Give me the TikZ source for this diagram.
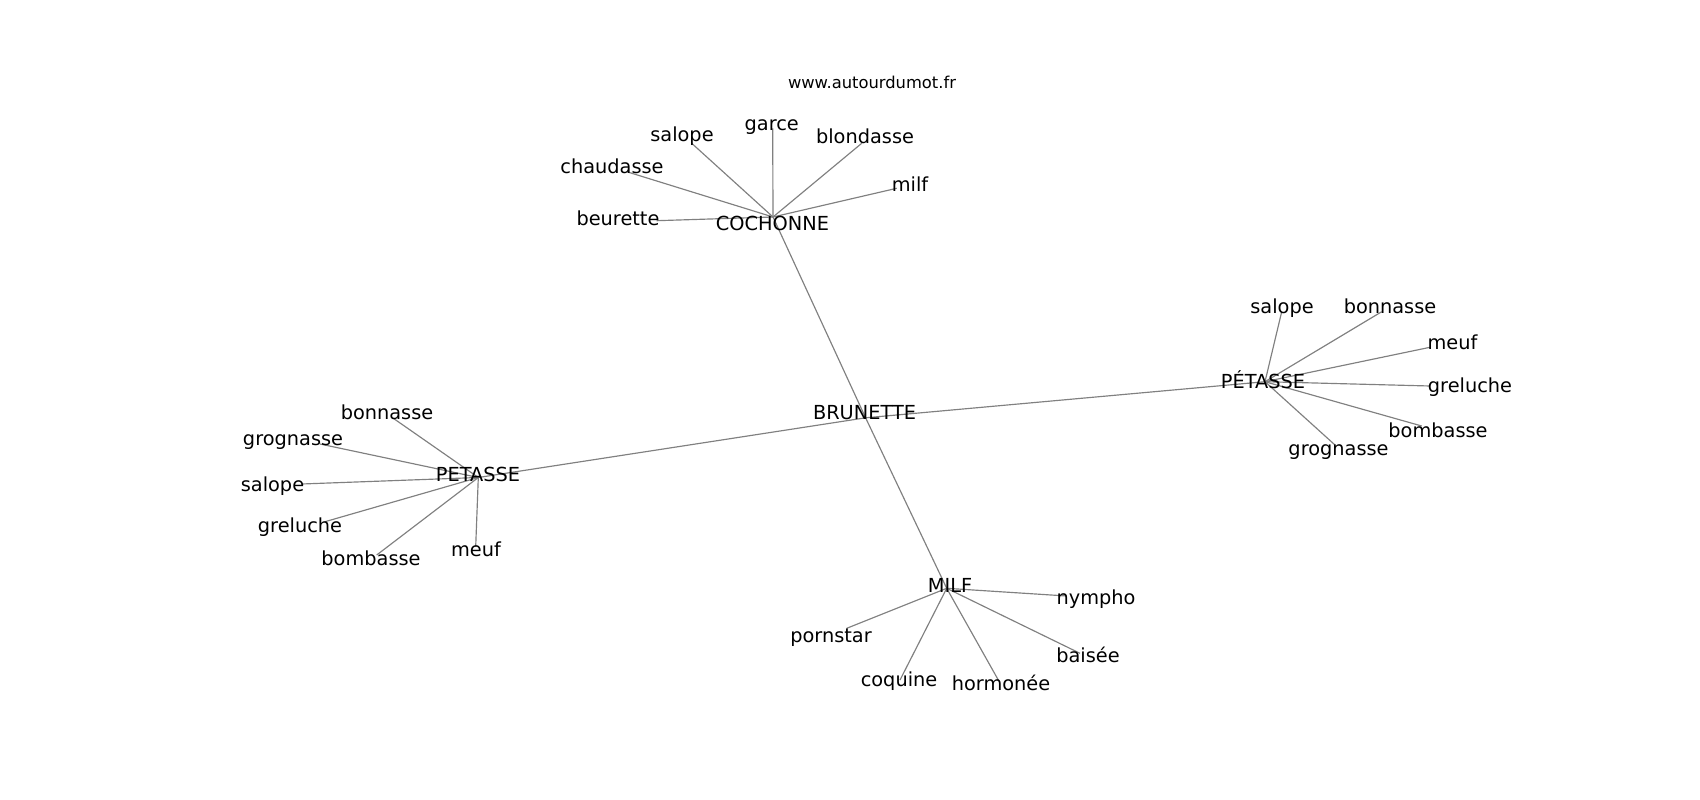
\documentclass[tikz,border=0pt]{standalone}
\usepackage{fontspec}
\setmainfont{DejaVu Sans}
\usetikzlibrary{positioning}

\begin{document}
\begin{tikzpicture}[
  x=0.6pt, y=-0.6pt,
  word/.style={font=\fontsize{11.6}{13}\selectfont, anchor=base, inner sep=0pt, text=black},
  site/.style={font=\fontsize{9.8}{11}\selectfont, anchor=base, inner sep=0pt, text=black},
  edge/.style={draw=black!50, line width=0.7pt},
]
\useasboundingbox (0,0) rectangle (1700,800);

% Hubs
\coordinate (brunette) at (865.6,417.8);
\coordinate (cochonne) at (773,217);
\coordinate (petasse)  at (478.3,477.5);
\coordinate (petasseR) at (1265,381.7);
\coordinate (milf)     at (946.7,588.3);

% Leaves of COCHONNE
\coordinate (co-garce)     at (772.7,128.3);
\coordinate (co-salope)    at (691.7,143.3);
\coordinate (co-blondasse) at (861.7,143.3);
\coordinate (co-chaudasse) at (626.7,171.7);
\coordinate (co-milf)      at (896.7,188.3);
\coordinate (co-beurette)  at (656.7,220.7);

% Leaves of PETASSE
\coordinate (pl-bonnasse)  at (393.3,418.3);
\coordinate (pl-grognasse) at (320,444);
\coordinate (pl-salope)    at (301.7,484);
\coordinate (pl-greluche)  at (325,521.7);
\coordinate (pl-bombasse)  at (376.7,555);
\coordinate (pl-meuf)      at (475.7,546.7);

% Leaves of PÉTASSE
\coordinate (pr-salope)    at (1281.7,311.7);
\coordinate (pr-bonnasse)  at (1381.7,311.7);
\coordinate (pr-meuf)      at (1430,347.3);
\coordinate (pr-greluche)  at (1430,386);
\coordinate (pr-bombasse)  at (1421.7,426);
\coordinate (pr-grognasse) at (1335,445);

% Leaves of MILF
\coordinate (mi-nympho)   at (1066.7,596);
\coordinate (mi-pornstar) at (846.7,628.3);
\coordinate (mi-baisee)   at (1080,653.3);
\coordinate (mi-coquine)  at (900,680);
\coordinate (mi-hormonee) at (998.3,680);

% Edges
\foreach \a/\b in {cochonne/brunette, brunette/milf, petasse/brunette, brunette/petasseR}
  \draw[edge] (\a) -- (\b);
\foreach \b in {garce, salope, blondasse, chaudasse, milf, beurette}
  \draw[edge] (cochonne) -- (co-\b);
\foreach \b in {bonnasse, grognasse, salope, greluche, bombasse, meuf}
  \draw[edge] (petasse) -- (pl-\b);
\foreach \b in {salope, bonnasse, meuf, greluche, bombasse, grognasse}
  \draw[edge] (petasseR) -- (pr-\b);
\foreach \b in {nympho, pornstar, baisee, coquine, hormonee}
  \draw[edge] (milf) -- (mi-\b);

% Labels
\node[site] (site) at (872,89) {www.autourdumot.fr};

\node[word] (brunette-t) at (864.5,419.3) {BRUNETTE};

\node[word] (cochonne-t)  at (772.5,230) {COCHONNE};
\node[word] (co-garce-t)     at (771.7,130.7) {garce};
\node[word] (co-salope-t)    at (682,141.7) {salope};
\node[word] (co-blondasse-t) at (865,143.3) {blondasse};
\node[word] (co-chaudasse-t) at (612,173.3) {chaudasse};
\node[word] (co-milf-t)      at (910,191.7) {milf};
\node[word] (co-beurette-t)  at (618,225.7) {beurette};

\node[word] (petasse-t) at (478,481.7) {PETASSE};
\node[word] (pl-bonnasse-t)  at (387,419.3) {bonnasse};
\node[word] (pl-grognasse-t) at (293,445) {grognasse};
\node[word] (pl-salope-t)    at (272.5,491) {salope};
\node[word] (pl-greluche-t)  at (300,532.7) {greluche};
\node[word] (pl-bombasse-t)  at (371,565) {bombasse};
\node[word] (pl-meuf-t)      at (476,556.7) {meuf};

\node[word] (petasseR-t) at (1263,388.3) {PÉTASSE};
\node[word] (pr-salope-t)    at (1282,313.3) {salope};
\node[word] (pr-bonnasse-t)  at (1390,313.3) {bonnasse};
\node[word] (pr-meuf-t)      at (1452.5,349.3) {meuf};
\node[word] (pr-greluche-t)  at (1470,392.7) {greluche};
\node[word] (pr-bombasse-t)  at (1438,437.3) {bombasse};
\node[word] (pr-grognasse-t) at (1338.5,455) {grognasse};

\node[word] (milf-t) at (950,592.7) {MILF};
\node[word] (mi-nympho-t)   at (1096,604) {nympho};
\node[word] (mi-pornstar-t) at (831,642.7) {pornstar};
\node[word] (mi-baisee-t)   at (1088,662.7) {baisée};
\node[word] (mi-coquine-t)  at (899,686.7) {coquine};
\node[word] (mi-hormonee-t) at (1001,690) {hormonée};

\end{tikzpicture}
\end{document}
